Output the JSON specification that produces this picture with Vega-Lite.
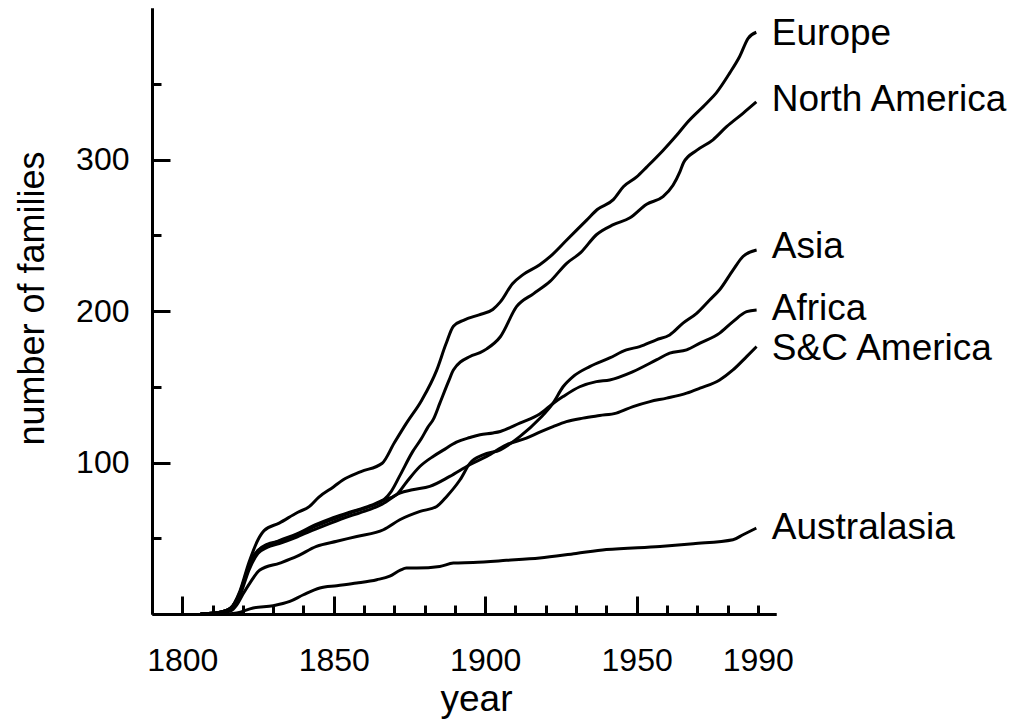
{
  "$schema": "https://vega.github.io/schema/vega-lite/v6.json",
  "autosize": "none",
  "padding": {"left": 152, "top": 8, "right": 259, "bottom": 109},
  "width": 624,
  "height": 606,
  "background": "white",
  "config": {
    "view": {"stroke": null},
    "font": "Liberation Sans",
    "axis": {"domainColor": "black", "domainWidth": 3, "tickColor": "black", "tickWidth": 3, "labelColor": "black", "titleColor": "black", "labelFont": "Liberation Sans", "titleFont": "Liberation Sans", "grid": false}
  },
  "datasets": {
    "lines": [
      {"series": "Europe", "year": 1806, "n": 0}, {"series": "Europe", "year": 1812, "n": 1}, {"series": "Europe", "year": 1816, "n": 4}, {"series": "Europe", "year": 1819, "n": 15}, {"series": "Europe", "year": 1822, "n": 34}, {"series": "Europe", "year": 1825, "n": 49}, {"series": "Europe", "year": 1827, "n": 55}, {"series": "Europe", "year": 1832, "n": 60}, {"series": "Europe", "year": 1838, "n": 67}, {"series": "Europe", "year": 1842, "n": 71}, {"series": "Europe", "year": 1845, "n": 77}, {"series": "Europe", "year": 1850, "n": 84}, {"series": "Europe", "year": 1853, "n": 88.5}, {"series": "Europe", "year": 1859, "n": 94}, {"series": "Europe", "year": 1866, "n": 99.5}, {"series": "Europe", "year": 1870, "n": 113}, {"series": "Europe", "year": 1874, "n": 126}, {"series": "Europe", "year": 1879, "n": 141}, {"series": "Europe", "year": 1884, "n": 161}, {"series": "Europe", "year": 1887, "n": 178}, {"series": "Europe", "year": 1889.5, "n": 190}, {"series": "Europe", "year": 1893, "n": 194}, {"series": "Europe", "year": 1898, "n": 197.5}, {"series": "Europe", "year": 1902.5, "n": 201}, {"series": "Europe", "year": 1905, "n": 206}, {"series": "Europe", "year": 1909, "n": 218}, {"series": "Europe", "year": 1912.5, "n": 224}, {"series": "Europe", "year": 1918, "n": 230.5}, {"series": "Europe", "year": 1921.5, "n": 236}, {"series": "Europe", "year": 1927, "n": 247}, {"series": "Europe", "year": 1933.5, "n": 260}, {"series": "Europe", "year": 1937, "n": 267}, {"series": "Europe", "year": 1942.3, "n": 273.5}, {"series": "Europe", "year": 1945.6, "n": 282}, {"series": "Europe", "year": 1950, "n": 288.5}, {"series": "Europe", "year": 1953.3, "n": 295}, {"series": "Europe", "year": 1958.7, "n": 306}, {"series": "Europe", "year": 1963.2, "n": 316}, {"series": "Europe", "year": 1966.5, "n": 324}, {"series": "Europe", "year": 1973, "n": 337}, {"series": "Europe", "year": 1976.3, "n": 344}, {"series": "Europe", "year": 1980.7, "n": 357}, {"series": "Europe", "year": 1984, "n": 368}, {"series": "Europe", "year": 1986.8, "n": 380}, {"series": "Europe", "year": 1989.5, "n": 384},

      {"series": "North America", "year": 1806, "n": 0}, {"series": "North America", "year": 1812, "n": 1}, {"series": "North America", "year": 1816, "n": 4}, {"series": "North America", "year": 1819, "n": 14}, {"series": "North America", "year": 1822, "n": 31}, {"series": "North America", "year": 1825, "n": 42}, {"series": "North America", "year": 1828, "n": 46}, {"series": "North America", "year": 1832, "n": 48}, {"series": "North America", "year": 1838, "n": 52.5}, {"series": "North America", "year": 1844, "n": 58}, {"series": "North America", "year": 1849, "n": 62}, {"series": "North America", "year": 1855, "n": 66.5}, {"series": "North America", "year": 1862, "n": 71}, {"series": "North America", "year": 1866.3, "n": 75}, {"series": "North America", "year": 1869, "n": 81}, {"series": "North America", "year": 1872, "n": 92}, {"series": "North America", "year": 1876, "n": 107}, {"series": "North America", "year": 1879, "n": 116}, {"series": "North America", "year": 1881, "n": 123}, {"series": "North America", "year": 1883, "n": 129}, {"series": "North America", "year": 1885, "n": 139}, {"series": "North America", "year": 1888, "n": 154}, {"series": "North America", "year": 1889.5, "n": 161}, {"series": "North America", "year": 1895, "n": 170}, {"series": "North America", "year": 1898.3, "n": 172.5}, {"series": "North America", "year": 1900.5, "n": 175}, {"series": "North America", "year": 1905, "n": 183}, {"series": "North America", "year": 1910.4, "n": 203}, {"series": "North America", "year": 1916, "n": 211.5}, {"series": "North America", "year": 1921.4, "n": 219.5}, {"series": "North America", "year": 1926.9, "n": 231.5}, {"series": "North America", "year": 1931.5, "n": 238.5}, {"series": "North America", "year": 1936.8, "n": 250.5}, {"series": "North America", "year": 1942.3, "n": 257}, {"series": "North America", "year": 1947.8, "n": 261.5}, {"series": "North America", "year": 1953.3, "n": 270.5}, {"series": "North America", "year": 1958.7, "n": 275.5}, {"series": "North America", "year": 1962, "n": 283}, {"series": "North America", "year": 1964.3, "n": 292}, {"series": "North America", "year": 1965.5, "n": 298}, {"series": "North America", "year": 1969.8, "n": 306}, {"series": "North America", "year": 1975.2, "n": 313}, {"series": "North America", "year": 1979.6, "n": 321.5}, {"series": "North America", "year": 1985.1, "n": 330.5}, {"series": "North America", "year": 1989.5, "n": 338},

      {"series": "Africa", "year": 1806, "n": 0}, {"series": "Africa", "year": 1812, "n": 1}, {"series": "Africa", "year": 1816, "n": 4}, {"series": "Africa", "year": 1819, "n": 14}, {"series": "Africa", "year": 1822, "n": 32}, {"series": "Africa", "year": 1825, "n": 42}, {"series": "Africa", "year": 1828, "n": 45}, {"series": "Africa", "year": 1832, "n": 48.5}, {"series": "Africa", "year": 1838, "n": 53}, {"series": "Africa", "year": 1844, "n": 59}, {"series": "Africa", "year": 1849, "n": 63}, {"series": "Africa", "year": 1855, "n": 67}, {"series": "Africa", "year": 1862, "n": 71.5}, {"series": "Africa", "year": 1866, "n": 75}, {"series": "Africa", "year": 1870.8, "n": 79}, {"series": "Africa", "year": 1874, "n": 87}, {"series": "Africa", "year": 1878.5, "n": 97.5}, {"series": "Africa", "year": 1882.8, "n": 104}, {"series": "Africa", "year": 1886, "n": 108}, {"series": "Africa", "year": 1890.5, "n": 113.5}, {"series": "Africa", "year": 1895, "n": 116.5}, {"series": "Africa", "year": 1898.3, "n": 118.3}, {"series": "Africa", "year": 1902.6, "n": 119.5}, {"series": "Africa", "year": 1905, "n": 120.5}, {"series": "Africa", "year": 1911.4, "n": 126}, {"series": "Africa", "year": 1918, "n": 132}, {"series": "Africa", "year": 1922.4, "n": 139}, {"series": "Africa", "year": 1925.7, "n": 143.5}, {"series": "Africa", "year": 1931.2, "n": 150}, {"series": "Africa", "year": 1936.7, "n": 153.4}, {"series": "Africa", "year": 1941.1, "n": 154.5}, {"series": "Africa", "year": 1948.8, "n": 160}, {"series": "Africa", "year": 1956.5, "n": 167.7}, {"series": "Africa", "year": 1960.9, "n": 172.2}, {"series": "Africa", "year": 1966.5, "n": 174.3}, {"series": "Africa", "year": 1970.9, "n": 178.8}, {"series": "Africa", "year": 1977.4, "n": 185.4}, {"series": "Africa", "year": 1981.8, "n": 193}, {"series": "Africa", "year": 1986.3, "n": 199.6}, {"series": "Africa", "year": 1989.6, "n": 200.7},

      {"series": "S&C America", "year": 1806, "n": 0}, {"series": "S&C America", "year": 1812, "n": 1}, {"series": "S&C America", "year": 1816, "n": 3.5}, {"series": "S&C America", "year": 1819, "n": 12}, {"series": "S&C America", "year": 1822, "n": 29}, {"series": "S&C America", "year": 1825, "n": 40}, {"series": "S&C America", "year": 1828, "n": 44}, {"series": "S&C America", "year": 1832, "n": 46.5}, {"series": "S&C America", "year": 1838, "n": 51}, {"series": "S&C America", "year": 1844, "n": 56}, {"series": "S&C America", "year": 1849, "n": 60}, {"series": "S&C America", "year": 1855, "n": 64.5}, {"series": "S&C America", "year": 1862, "n": 69}, {"series": "S&C America", "year": 1866, "n": 72.5}, {"series": "S&C America", "year": 1871.8, "n": 79.8}, {"series": "S&C America", "year": 1876, "n": 82}, {"series": "S&C America", "year": 1881.7, "n": 84.2}, {"series": "S&C America", "year": 1888.3, "n": 90.8}, {"series": "S&C America", "year": 1894.9, "n": 98.5}, {"series": "S&C America", "year": 1900.5, "n": 104}, {"series": "S&C America", "year": 1907, "n": 111.7}, {"series": "S&C America", "year": 1913.6, "n": 116.1}, {"series": "S&C America", "year": 1918, "n": 120}, {"series": "S&C America", "year": 1922.4, "n": 123.7}, {"series": "S&C America", "year": 1926.8, "n": 127}, {"series": "S&C America", "year": 1932.3, "n": 129.3}, {"series": "S&C America", "year": 1937.8, "n": 131}, {"series": "S&C America", "year": 1943.3, "n": 132.6}, {"series": "S&C America", "year": 1948.8, "n": 136.9}, {"series": "S&C America", "year": 1954.4, "n": 140.2}, {"series": "S&C America", "year": 1959.9, "n": 142.5}, {"series": "S&C America", "year": 1966.5, "n": 145.8}, {"series": "S&C America", "year": 1970.9, "n": 149.1}, {"series": "S&C America", "year": 1977.4, "n": 154.5}, {"series": "S&C America", "year": 1981.8, "n": 161.1}, {"series": "S&C America", "year": 1986.3, "n": 169.9}, {"series": "S&C America", "year": 1989.6, "n": 176.5},

      {"series": "Asia", "year": 1806, "n": 0}, {"series": "Asia", "year": 1812, "n": 0.5}, {"series": "Asia", "year": 1816, "n": 2}, {"series": "Asia", "year": 1818, "n": 6}, {"series": "Asia", "year": 1820, "n": 13}, {"series": "Asia", "year": 1822.3, "n": 20.4}, {"series": "Asia", "year": 1825.6, "n": 29}, {"series": "Asia", "year": 1832.2, "n": 33.6}, {"series": "Asia", "year": 1837.8, "n": 38}, {"series": "Asia", "year": 1844.3, "n": 44.6}, {"series": "Asia", "year": 1851, "n": 48}, {"series": "Asia", "year": 1857.6, "n": 51.2}, {"series": "Asia", "year": 1866.4, "n": 55.6}, {"series": "Asia", "year": 1871.8, "n": 62.2}, {"series": "Asia", "year": 1878.5, "n": 67.7}, {"series": "Asia", "year": 1884, "n": 71}, {"series": "Asia", "year": 1887.3, "n": 77.6}, {"series": "Asia", "year": 1891.7, "n": 88.6}, {"series": "Asia", "year": 1895, "n": 99.6}, {"series": "Asia", "year": 1899.3, "n": 105}, {"series": "Asia", "year": 1905, "n": 108.4}, {"series": "Asia", "year": 1911.5, "n": 117.2}, {"series": "Asia", "year": 1918, "n": 129}, {"series": "Asia", "year": 1922.4, "n": 139.2}, {"series": "Asia", "year": 1925.7, "n": 150}, {"series": "Asia", "year": 1929, "n": 156.7}, {"series": "Asia", "year": 1934.5, "n": 163.3}, {"series": "Asia", "year": 1941.1, "n": 169}, {"series": "Asia", "year": 1946.6, "n": 174.3}, {"series": "Asia", "year": 1951, "n": 176.5}, {"series": "Asia", "year": 1956.5, "n": 181}, {"series": "Asia", "year": 1960.9, "n": 184.2}, {"series": "Asia", "year": 1965.3, "n": 192}, {"series": "Asia", "year": 1969.8, "n": 198.5}, {"series": "Asia", "year": 1974.1, "n": 207.3}, {"series": "Asia", "year": 1977.4, "n": 214}, {"series": "Asia", "year": 1981.8, "n": 227}, {"series": "Asia", "year": 1985.1, "n": 236}, {"series": "Asia", "year": 1989.6, "n": 240.3},

      {"series": "Australasia", "year": 1815, "n": 0}, {"series": "Australasia", "year": 1818, "n": 0.7}, {"series": "Australasia", "year": 1823.4, "n": 4}, {"series": "Australasia", "year": 1830, "n": 5.5}, {"series": "Australasia", "year": 1835.5, "n": 8.3}, {"series": "Australasia", "year": 1840, "n": 12.7}, {"series": "Australasia", "year": 1845.4, "n": 17.2}, {"series": "Australasia", "year": 1851, "n": 18.7}, {"series": "Australasia", "year": 1857.6, "n": 20.4}, {"series": "Australasia", "year": 1864.2, "n": 22.6}, {"series": "Australasia", "year": 1868.5, "n": 25}, {"series": "Australasia", "year": 1872, "n": 29}, {"series": "Australasia", "year": 1874, "n": 30.3}, {"series": "Australasia", "year": 1877.4, "n": 30.3}, {"series": "Australasia", "year": 1885, "n": 31.4}, {"series": "Australasia", "year": 1889.5, "n": 33.6}, {"series": "Australasia", "year": 1896, "n": 34}, {"series": "Australasia", "year": 1907, "n": 35.4}, {"series": "Australasia", "year": 1918, "n": 37}, {"series": "Australasia", "year": 1930, "n": 40}, {"series": "Australasia", "year": 1940, "n": 42.5}, {"series": "Australasia", "year": 1957.7, "n": 44.6}, {"series": "Australasia", "year": 1968.7, "n": 46.4}, {"series": "Australasia", "year": 1981.8, "n": 49}, {"series": "Australasia", "year": 1985.1, "n": 52.3}, {"series": "Australasia", "year": 1989.5, "n": 56.7}
    ],
    "labels": [
      {"series": "Europe", "year": 1990, "n": 383},
      {"series": "North America", "year": 1990, "n": 339},
      {"series": "Asia", "year": 1990, "n": 242},
      {"series": "Africa", "year": 1990, "n": 201},
      {"series": "S&C America", "year": 1990, "n": 175},
      {"series": "Australasia", "year": 1990, "n": 57}
    ]
  },
  "layer": [
    {
      "data": {"name": "lines"},
      "mark": {"type": "line", "color": "black", "strokeWidth": 3, "interpolate": "monotone"},
      "encoding": {
        "x": {"field": "year", "type": "quantitative", "scale": {"domain": [1790, 1996], "nice": false, "zero": false},
          "axis": {"orient": "bottom", "values": [1800, 1850, 1900, 1950], "format": "d", "tickSize": -18, "labelPadding": 49, "labelFontSize": 32, "labelBaseline": "top", "title": "year", "titleFontSize": 37, "titleFontWeight": "normal", "titleBaseline": "alphabetic", "titleX": 324, "titleY": 96}},
        "y": {"field": "n", "type": "quantitative", "scale": {"domain": [0, 400], "nice": false},
          "axis": {"orient": "left", "values": [100, 200, 300], "format": "d", "tickSize": -18, "labelPadding": 41, "labelFontSize": 32, "title": "number of families", "titleFontSize": 36, "titleFontWeight": "normal", "titleAngle": -90, "titleBaseline": "alphabetic", "titleX": -109, "titleY": 290}},
        "detail": {"field": "series", "type": "nominal"}
      }
    },
    {
      "data": {"name": "labels"},
      "mark": {"type": "text", "align": "left", "baseline": "middle", "dx": 14, "fontSize": 37, "font": "Liberation Sans", "color": "black"},
      "encoding": {
        "x": {"field": "year", "type": "quantitative", "scale": {"domain": [1790, 1996], "nice": false, "zero": false},
          "axis": {"orient": "bottom", "values": [1810, 1820, 1830, 1840, 1860, 1870, 1880, 1890, 1910, 1920, 1930, 1940, 1960, 1970, 1980, 1990], "format": "d", "tickSize": -9, "labelPadding": 40, "labelFontSize": 32, "labelBaseline": "top", "labelExpr": "datum.value == 1990 ? '1990' : ''", "title": null}},
        "y": {"field": "n", "type": "quantitative", "scale": {"domain": [0, 400], "nice": false},
          "axis": {"orient": "left", "values": [50, 150, 250, 350], "tickSize": -9, "labels": false, "title": null}},
        "text": {"field": "series", "type": "nominal"}
      }
    }
  ],
  "resolve": {"axis": {"x": "independent", "y": "independent"}}
}
